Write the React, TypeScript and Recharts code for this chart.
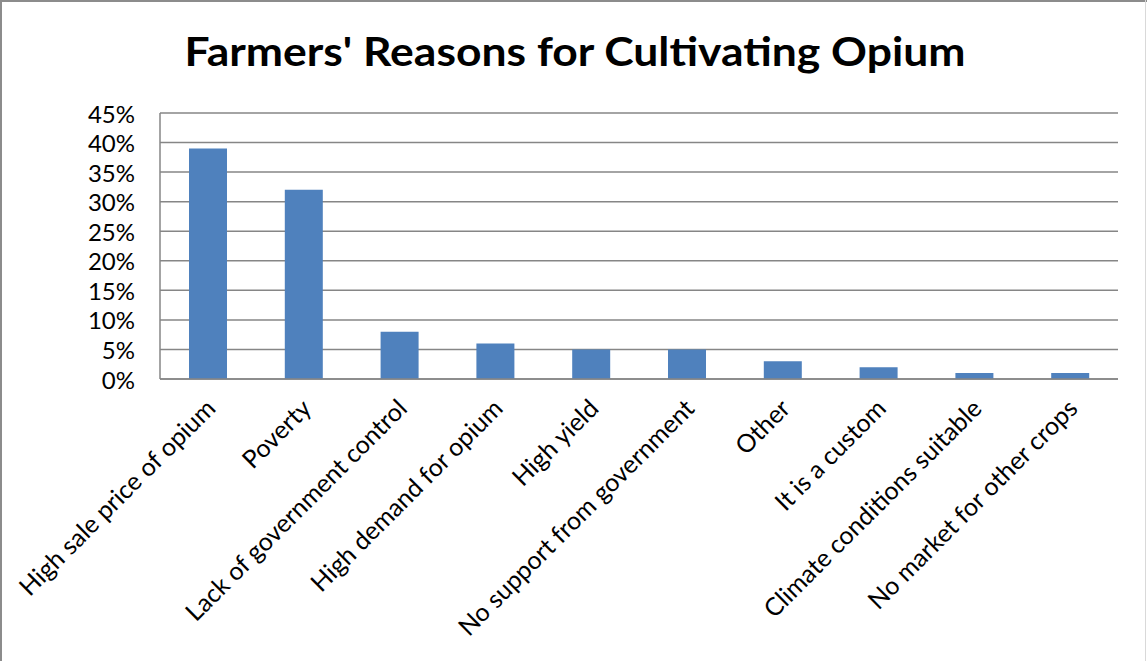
import React from 'react';
import { BarChart, Bar, XAxis, YAxis, CartesianGrid } from 'recharts';

const categories = [
  'High sale price of opium',
  'Poverty',
  'Lack of government control',
  'High demand for opium',
  'High yield',
  'No support from government',
  'Other',
  'It is a custom',
  'Climate conditions suitable',
  'No market for other crops',
];
const shares = [0.39, 0.32, 0.08, 0.06, 0.05, 0.05, 0.03, 0.02, 0.01, 0.01];
const yTicks = [0, 0.05, 0.1, 0.15, 0.2, 0.25, 0.3, 0.35, 0.4, 0.45];
const title = "Farmers' Reasons for Cultivating Opium";

const data = categories.map((name, i) => ({ name, value: shares[i] }));

const FONT = "Lato, 'Open Sans', sans-serif";
const W = 1147;
const H = 661;

const XTick = (props: any) => {
  const { x, y, payload } = props;
  const px = x + 2;
  const py = y + 24;
  return (
    <text
      x={px}
      y={py}
      transform={`rotate(-45, ${px}, ${py})`}
      textAnchor="end"
      dominantBaseline="central"
      fontFamily={FONT}
      fontSize={25}
      fill="#000"
    >
      {payload.value}
    </text>
  );
};

const YTick = (props: any) => {
  const { x, y, payload } = props;
  return (
    <text
      x={x}
      y={y}
      textAnchor="end"
      dominantBaseline="central"
      fontFamily={FONT}
      fontSize={24}
      fill="#000"
    >
      {Math.round(payload.value * 100) + '%'}
    </text>
  );
};

export default function App() {
  return (
    <div
      style={{
        position: 'absolute',
        left: 0,
        top: 0,
        width: W,
        height: H,
        background: '#fff',
      }}
    >
      <BarChart
        width={W}
        height={H}
        data={data}
        margin={{ top: 113, right: 29, left: 0, bottom: 0 }}
        barCategoryGap={0}
      >
        <CartesianGrid vertical={false} stroke="#868686" strokeWidth={1.5} />
        <XAxis
          dataKey="name"
          height={282}
          interval={0}
          tickLine={false}
          tickSize={0}
          tickMargin={0}
          axisLine={{ stroke: '#868686', strokeWidth: 1.5 }}
          tick={<XTick />}
        />
        <YAxis
          width={160}
          domain={[0, 0.45]}
          ticks={yTicks}
          interval={0}
          tickLine={false}
          tickSize={0}
          tickMargin={25}
          axisLine={{ stroke: '#868686', strokeWidth: 1.5 }}
          tick={<YTick />}
        />
        <Bar dataKey="value" fill="#4F81BD" barSize={38} isAnimationActive={false} />
      </BarChart>
      <svg
        width={W}
        height={H}
        style={{ position: 'absolute', left: 0, top: 0, pointerEvents: 'none' }}
      >
        <line x1={1} y1={0} x2={1} y2={H} stroke="#8c8c8c" strokeWidth={2} />
        <line x1={0} y1={1} x2={W} y2={1} stroke="#8c8c8c" strokeWidth={2} />
        <line x1={W - 1.5} y1={0} x2={W - 1.5} y2={H} stroke="#d9d9d9" strokeWidth={1} />
        <text
          x={575}
          y={66}
          textAnchor="middle"
          fontFamily={FONT}
          fontWeight="bold"
          fontSize={40}
          textLength={781}
          lengthAdjust="spacingAndGlyphs"
          fill="#000"
        >
          {title}
        </text>
      </svg>
    </div>
  );
}
